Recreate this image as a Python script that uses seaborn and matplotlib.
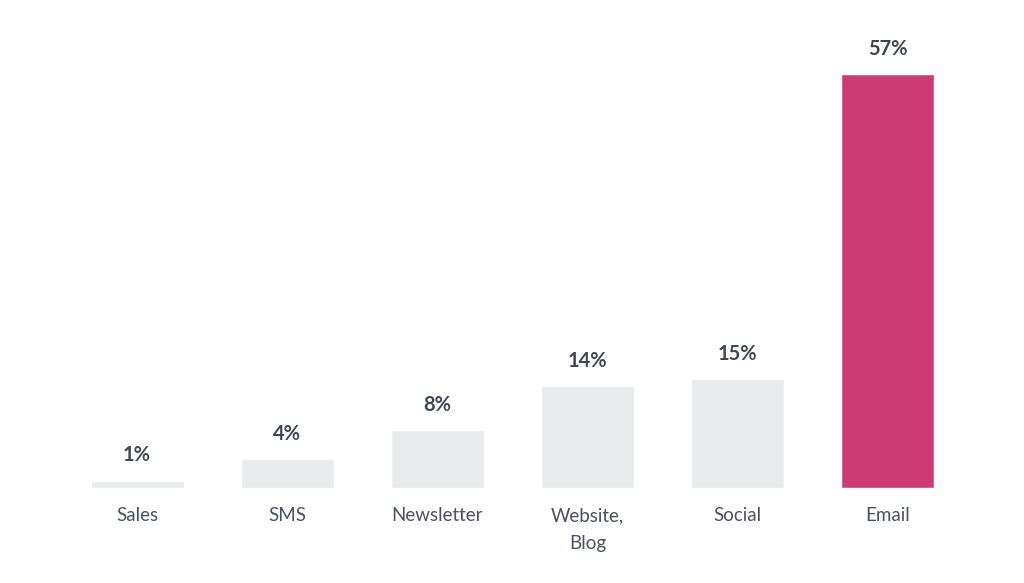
import matplotlib
matplotlib.use("Agg")
import matplotlib.pyplot as plt
import seaborn as sns
import pandas as pd

CATEGORIES = ["Sales", "SMS", "Newsletter", "Website,\nBlog", "Social", "Email"]
VALUES = [1, 4, 8, 14, 15, 57]
COLORS = ["#eaebed", "#eaebed", "#eaebed", "#eaebed", "#eaebed", "#cd3a74"]


def main() -> None:
    sns.set_theme(style="white")
    plt.rcParams["font.family"] = ["Lato", "DejaVu Sans"]
    df = pd.DataFrame({"channel": CATEGORIES, "share": VALUES})

    fig = plt.figure(figsize=(10.24, 5.83), dpi=100)
    ax = fig.add_axes([62 / 1024, 95 / 583, 901 / 1024, 436 / 583])
    sns.barplot(data=df, x="channel", y="share", hue="channel", palette=COLORS,
                legend=False, width=0.62, saturation=1, ax=ax)
    ax.set_ylim(0, 60)
    ax.set_xlim(-0.5, 5.5)
    for i, v in enumerate(VALUES):
        ax.annotate(f"{v}%", (i, v), xytext=(0, 11), textcoords="offset points",
                    ha="center", va="bottom", fontsize=14.5, fontweight="bold", color="#3e4655")
    ax.set_xlabel("")
    ax.set_ylabel("")
    ax.set_yticks([])
    ax.tick_params(axis="x", length=0, pad=14, labelsize=13.5, labelcolor="#4a5162")
    for label in ax.get_xticklabels():
        label.set_linespacing(1.75)
    sns.despine(ax=ax, left=True, bottom=True)
    fig.savefig("out.png", dpi=100)
    plt.close(fig)


if __name__ == "__main__":
    main()
